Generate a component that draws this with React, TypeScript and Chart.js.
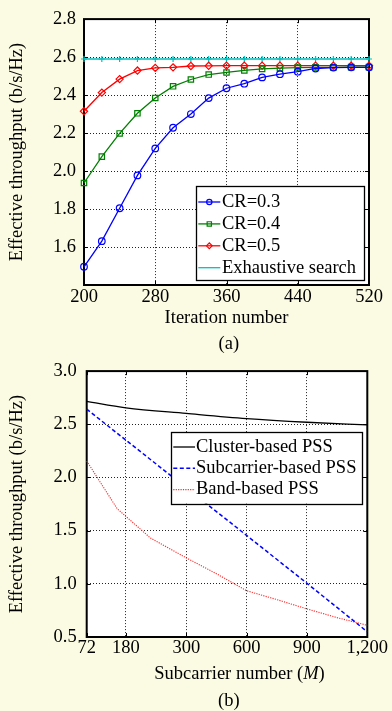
import React, { useEffect, useRef } from 'react';
import { Chart, registerables, LinearScale } from 'chart.js';
import { drawPoint } from 'chart.js/helpers';

Chart.register(...registerables);

// ---------- (a) data ----------
const ITER = [200, 220, 240, 260, 280, 300, 320, 340, 360, 380, 400, 420, 440, 460, 480, 500, 520];
const CR03 = [1.496, 1.631, 1.804, 1.977, 2.119, 2.228, 2.300, 2.384, 2.436, 2.460, 2.493, 2.510, 2.523, 2.540, 2.545, 2.546, 2.546];
const CR04 = [1.937, 2.076, 2.198, 2.304, 2.385, 2.446, 2.482, 2.508, 2.519, 2.530, 2.538, 2.542, 2.545, 2.546, 2.546, 2.547, 2.547];
const CR05 = [2.315, 2.413, 2.484, 2.529, 2.543, 2.546, 2.553, 2.554, 2.555, 2.555, 2.555, 2.555, 2.555, 2.555, 2.555, 2.555, 2.555];
const EXHAUSTIVE = [2.59, 2.59, 2.59, 2.59, 2.59, 2.59, 2.59, 2.59, 2.59, 2.59, 2.59, 2.59, 2.59, 2.59, 2.59, 2.59, 2.59];
const X_TICKS_A = [200, 280, 360, 440, 520];
const Y_TICKS_A = [1.6, 1.8, 2.0, 2.2, 2.4, 2.6, 2.8];

// ---------- (b) data ----------
const M_TICKS = [72, 180, 300, 600, 900, 1200];
const M_TICK_LABELS = ['72', '180', '300', '600', '900', '1,200'];
const SEG_WEIGHTS = [0.65, 1, 1, 1, 1];
const CLUSTER_M = [72, 180, 300, 600, 900, 1200];
const CLUSTER = [2.716, 2.655, 2.602, 2.553, 2.519, 2.494];
const SUBCARRIER_M = [72, 180, 300, 600, 900, 1200];
const SUBCARRIER = [2.642, 2.351, 1.903, 1.455, 1.005, 0.549];
const BAND_M = [72, 156, 229, 300, 455, 600, 750, 900, 1050, 1200];
const BAND = [2.155, 1.706, 1.43, 1.244, 1.09, 0.935, 0.852, 0.764, 0.682, 0.61];
const Y_TICKS_B = [0.5, 1.0, 1.5, 2.0, 2.5, 3.0];

const FONT = '"Liberation Serif", "Times New Roman", serif';
const FS = 18.5;
const BG = '#fbfbe3';

class PiecewiseScale extends LinearScale {
  static id = 'piecewise';
  static defaults = LinearScale.defaults;
  _frac(v: number): number {
    const b = M_TICKS;
    const w = SEG_WEIGHTS;
    const total = w.reduce((s, x) => s + x, 0);
    let acc = 0;
    for (let i = 0; i < b.length - 1; i++) {
      if (v <= b[i + 1] || i === b.length - 2) {
        return (acc + ((v - b[i]) / (b[i + 1] - b[i])) * w[i]) / total;
      }
      acc += w[i];
    }
    return 0;
  }
  getPixelForValue(value: number) {
    return this.getPixelForDecimal(this._frac(value));
  }
  getValueForPixel(pixel: number) {
    const f = this.getDecimalForPixel(pixel);
    const w = SEG_WEIGHTS;
    const total = w.reduce((s, x) => s + x, 0);
    let acc = 0;
    for (let i = 0; i < w.length; i++) {
      const next = acc + w[i] / total;
      if (f <= next || i === w.length - 1) {
        const t = (f - acc) / (w[i] / total);
        return M_TICKS[i] + t * (M_TICKS[i + 1] - M_TICKS[i]);
      }
      acc = next;
    }
    return M_TICKS[0];
  }
}
Chart.register(PiecewiseScale as any);

const figPlugin = {
  id: 'figFrame',
  beforeDraw(chart: any) {
    const { ctx, chartArea: a } = chart;
    ctx.save();
    ctx.fillStyle = '#ffffff';
    ctx.fillRect(a.left, a.top, a.right - a.left, a.bottom - a.top);
    ctx.restore();
  },
  beforeDatasetsDraw(chart: any) {
    const { ctx, chartArea: a, scales } = chart;
    ctx.save();
    ctx.strokeStyle = '#000';
    ctx.lineWidth = 1;
    const tl = 4;
    ctx.beginPath();
    for (const t of scales.x.ticks) {
      const px = Math.round(scales.x.getPixelForValue(t.value)) + 0.5;
      ctx.moveTo(px, a.bottom);
      ctx.lineTo(px, a.bottom - tl);
      ctx.moveTo(px, a.top);
      ctx.lineTo(px, a.top + tl);
    }
    for (const t of scales.y.ticks) {
      const py = Math.round(scales.y.getPixelForValue(t.value)) + 0.5;
      ctx.moveTo(a.left, py);
      ctx.lineTo(a.left + tl, py);
      ctx.moveTo(a.right, py);
      ctx.lineTo(a.right - tl, py);
    }
    ctx.stroke();
    ctx.lineWidth = 2;
    ctx.strokeRect(a.left, a.top, a.right - a.left, a.bottom - a.top);
    ctx.restore();
  },
  afterDatasetsDraw(chart: any, _args: any, opts: any) {
    const L = opts && opts.legend;
    if (!L) return;
    const { ctx, chartArea: a } = chart;
    ctx.save();
    ctx.font = `${FS}px ${FONT}`;
    const items = chart.data.datasets.map((ds: any) => ({
      label: ds.label,
      color: ds.borderColor,
      width: ds.borderWidth,
      dash: ds.borderDash || [],
      style: ds.pointStyle,
      radius: ds.pointRadius || 0,
      marker: ds.legendMarker !== false && (ds.pointRadius || 0) > 0,
    }));
    const maxW = Math.max(...items.map((it: any) => ctx.measureText(it.label).width));
    const w = L.textX + maxW + L.padR;
    const h = L.padTop + (items.length - 1) * L.rowH + L.padBottom;
    const x0 = Math.round(a.right - L.right - w);
    const y0 = Math.round(L.top != null ? a.top + L.top : a.bottom - L.bottom - h);
    ctx.fillStyle = '#fff';
    ctx.fillRect(x0, y0, w, h);
    ctx.strokeStyle = '#000';
    ctx.lineWidth = 1.3;
    ctx.strokeRect(x0 + 0.5, y0 + 0.5, Math.round(w), Math.round(h));
    items.forEach((it: any, i: number) => {
      const cy = y0 + L.padTop + i * L.rowH;
      ctx.save();
      ctx.strokeStyle = it.color;
      ctx.lineWidth = it.width;
      ctx.setLineDash(it.dash);
      ctx.beginPath();
      ctx.moveTo(x0 + L.lineX0, cy);
      ctx.lineTo(x0 + L.lineX1, cy);
      ctx.stroke();
      ctx.setLineDash([]);
      if (it.marker) {
        ctx.fillStyle = 'rgba(0,0,0,0)';
        ctx.lineWidth = 1.2;
        drawPoint(ctx, { pointStyle: it.style, radius: it.radius * 0.8, rotation: 0, borderWidth: 1.2 } as any,
          x0 + (L.lineX0 + L.lineX1) / 2, cy);
      }
      ctx.restore();
      ctx.fillStyle = '#000';
      ctx.textBaseline = 'middle';
      ctx.textAlign = 'left';
      ctx.fillText(it.label, x0 + L.textX, cy);
    });
    ctx.restore();
  },
};

const tickFont = { family: FONT, size: FS };

function lineDs(label: string, xs: number[], ys: number[], color: string, extra: any = {}) {
  return {
    label,
    data: xs.map((x, i) => ({ x, y: ys[i] })),
    borderColor: color,
    backgroundColor: color,
    borderWidth: 1.3,
    pointRadius: 0,
    pointBackgroundColor: 'rgba(0,0,0,0)',
    pointBorderColor: color,
    pointBorderWidth: 1.2,
    tension: 0,
    clip: false,
    ...extra,
  };
}

function makeChartA(canvas: HTMLCanvasElement) {
  return new Chart(canvas, {
    type: 'line',
    data: {
      datasets: [
        lineDs('CR=0.3', ITER, CR03, '#0000ff', { pointStyle: 'circle', pointRadius: 3.3 }),
        lineDs('CR=0.4', ITER, CR04, '#008000', { pointStyle: 'rect', pointRadius: 3.8 }),
        lineDs('CR=0.5', ITER, CR05, '#ff0000', { pointStyle: 'rectRot', pointRadius: 3.6 }),
        lineDs('Exhaustive search', ITER, EXHAUSTIVE, '#00bfbf', { pointStyle: 'cross', pointRadius: 3, legendMarker: false }),
      ],
    },
    options: {
      responsive: false,
      animation: false,
      events: [],
      layout: { padding: { left: 0, right: 23, top: 15, bottom: 0 } },
      plugins: {
        legend: { display: false },
        tooltip: { enabled: false },
        figFrame: {
          legend: { right: 5, bottom: 5, padTop: 16, rowH: 21.9, padBottom: 12.7, lineX0: 2.3, lineX1: 24.3, textX: 26, padR: 8 },
        },
      } as any,
      scales: {
        x: {
          type: 'linear',
          min: 200,
          max: 520,
          afterBuildTicks: (s: any) => { s.ticks = X_TICKS_A.map((v) => ({ value: v })); },
          afterFit: (s: any) => { s.height = 48; },
          ticks: { font: tickFont, color: '#000', padding: 1.5, maxRotation: 0, autoSkip: false, callback: (v: any) => String(v) },
          grid: { color: '#222', lineWidth: 1, drawTicks: false },
          border: { display: false, dash: [1, 2] },
          title: { display: true, text: 'Iteration number', font: tickFont, color: '#000', padding: { top: 0, bottom: 4 } },
        },
        y: {
          type: 'linear',
          min: 1.4,
          max: 2.8,
          afterBuildTicks: (s: any) => { s.ticks = Y_TICKS_A.map((v) => ({ value: v })); },
          afterFit: (s: any) => { s.width = 84; },
          ticks: { font: tickFont, color: '#000', padding: 8, callback: (v: any) => Number(v).toFixed(1) },
          grid: { color: '#222', lineWidth: 1, drawTicks: false },
          border: { display: false, dash: [1, 2] },
          title: { display: true, text: 'Effective throughput (b/s/Hz)', font: tickFont, color: '#000', padding: { top: 6, bottom: 0 } },
        },
      },
    },
    plugins: [figPlugin],
  } as any);
}

function makeChartB(canvas: HTMLCanvasElement) {
  return new Chart(canvas, {
    type: 'line',
    data: {
      datasets: [
        lineDs('Cluster-based PSS', CLUSTER_M, CLUSTER, '#000000', { borderWidth: 1.3, cubicInterpolationMode: 'monotone' }),
        lineDs('Subcarrier-based PSS', SUBCARRIER_M, SUBCARRIER, '#0000ff', { borderWidth: 1.5, borderDash: [4, 2.5] }),
        lineDs('Band-based PSS', BAND_M, BAND, '#ff2a2a', { borderWidth: 1.1, borderDash: [1.2, 1.2] }),
      ],
    },
    options: {
      responsive: false,
      animation: false,
      events: [],
      layout: { padding: { left: 0, right: 24.7, top: 17, bottom: 0 } },
      plugins: {
        legend: { display: false },
        tooltip: { enabled: false },
        figFrame: {
          legend: { right: 5, top: 61.3, padTop: 15, rowH: 21.3, padBottom: 14, lineX0: 2.3, lineX1: 24, textX: 25, padR: 5.5 },
        },
      } as any,
      scales: {
        x: {
          type: 'piecewise',
          min: 72,
          max: 1200,
          afterBuildTicks: (s: any) => { s.ticks = M_TICKS.map((v) => ({ value: v })); },
          afterFit: (s: any) => { s.height = 74; },
          ticks: {
            font: tickFont, color: '#000', padding: 0, maxRotation: 0, autoSkip: false,
            callback: (v: any) => M_TICK_LABELS[M_TICKS.indexOf(Number(v))] ?? String(v),
          },
          grid: { color: '#222', lineWidth: 1, drawTicks: false },
          border: { display: false, dash: [1, 2] },
          title: { display: false },
        },
        y: {
          type: 'linear',
          min: 0.5,
          max: 3.0,
          afterBuildTicks: (s: any) => { s.ticks = Y_TICKS_B.map((v) => ({ value: v })); },
          afterFit: (s: any) => { s.width = 86.7; },
          ticks: { font: tickFont, color: '#000', padding: 10, callback: (v: any) => Number(v).toFixed(1) },
          grid: { color: '#222', lineWidth: 1, drawTicks: false },
          border: { display: false, dash: [1, 2] },
          title: { display: true, text: 'Effective throughput (b/s/Hz)', font: tickFont, color: '#000', padding: { top: 6, bottom: 0 } },
        },
      },
    },
    plugins: [figPlugin],
  } as any);
}

const textStyle: React.CSSProperties = {
  position: 'absolute',
  transform: 'translate(-50%, -50%)',
  fontFamily: FONT,
  fontSize: FS,
  lineHeight: 1,
  whiteSpace: 'nowrap',
  color: '#000',
};

export default function App() {
  const refA = useRef<HTMLCanvasElement | null>(null);
  const refB = useRef<HTMLCanvasElement | null>(null);

  useEffect(() => {
    const a = makeChartA(refA.current!);
    const b = makeChartB(refB.current!);
    return () => {
      a.destroy();
      b.destroy();
    };
  }, []);

  return (
    <div style={{ position: 'fixed', left: 0, top: 0, width: 392, height: 711, background: BG, overflow: 'hidden' }}>
      <canvas ref={refA} width={392} height={333} style={{ position: 'absolute', left: 0, top: 0, width: 392, height: 333 }} />
      <div style={{ ...textStyle, left: 228.8, top: 342.5 }}>(a)</div>
      <canvas ref={refB} width={392} height={361} style={{ position: 'absolute', left: 0, top: 350, width: 392, height: 361 }} />
      <div style={{ ...textStyle, left: 239.5, top: 672.5 }}>
        Subcarrier number (<i>M</i>)
      </div>
      <div style={{ ...textStyle, left: 228.8, top: 700.2 }}>(b)</div>
    </div>
  );
}
